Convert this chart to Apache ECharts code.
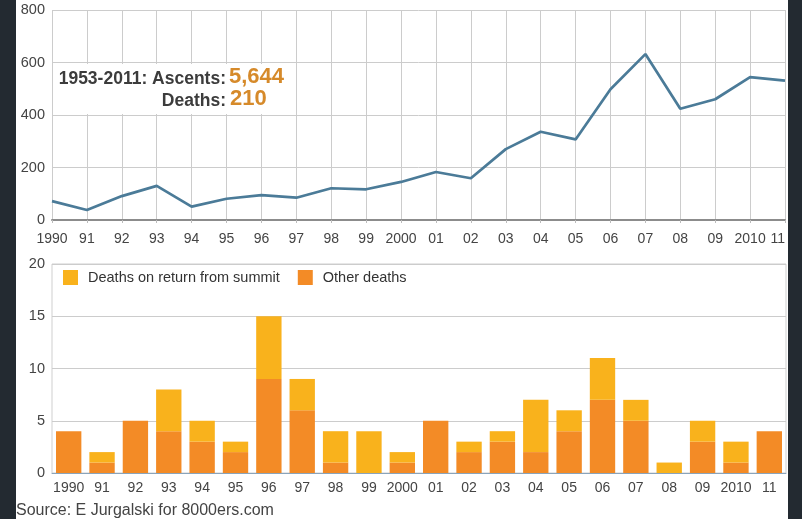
<!DOCTYPE html>
<html>
<head>
<meta charset="utf-8">
<script src="https://cdn.jsdelivr.net/npm/echarts@6/dist/echarts.min.js"></script>
<style>
html,body{margin:0;padding:0;background:#fff;}
#c{width:802px;height:519px;}
</style>
</head>
<body>
<div id="c"></div>
<script>
var years = ['1990','91','92','93','94','95','96','97','98','99','2000','01','02','03','04','05','06','07','08','09','2010','11'];
var ascents = [72,38,91,130,51,81,95,85,121,117,145,183,159,270,336,307,498,632,424,460,544,531];
var otherDeaths = [4,1,5,4,3,2,9,6,1,0,1,5,2,3,2,4,7,5,0,3,1,4];
var returnDeaths = [0,1,0,4,2,1,6,3,3,4,1,0,1,1,5,2,4,2,1,2,2,0];
var ascentTicks = [0,200,400,600,800];
var deathTicks = [0,5,10,15,20];

var FONT = '"Liberation Sans", Arial, sans-serif';
var chart = echarts.init(document.getElementById('c'), null, {renderer:'canvas'});
var option = {
  backgroundColor: '#ffffff',
  animation: false,
  textStyle: {fontFamily: FONT},
  grid: [
    {left: 52, right: 17, top: 10, height: 210, show: false},
    {left: 52, right: 16, top: 264, height: 209, show: true, borderColor: '#cfcfcf', borderWidth: 1, backgroundColor: 'transparent'}
  ],
  legend: {
    left: 63, top: 270, padding: 0,
    itemWidth: 15, itemHeight: 15, itemGap: 18,
    icon: 'rect',
    data: ['Deaths on return from summit', 'Other deaths'],
    textStyle: {fontFamily: FONT, fontSize: 14.5, color: '#333', padding: [0,0,0,5]}
  },
  xAxis: [
    {
      gridIndex: 0, type: 'category', data: years, boundaryGap: false,
      axisLine: {show: true, lineStyle: {color: '#8c8c8c', width: 2}},
      axisTick: {show: true, length: 3, interval: 0, lineStyle: {color: '#bbb'}},
      axisLabel: {interval: 0, margin: 12, fontSize: 14, color: '#444', fontFamily: FONT, alignMaxLabel: 'right'},
      splitLine: {show: true, interval: 0, lineStyle: {color: '#cccccc', width: 1}}
    },
    {
      gridIndex: 1, type: 'category', data: years, boundaryGap: true,
      axisLine: {show: true, lineStyle: {color: '#8aa4bb', width: 1}},
      axisTick: {show: false},
      axisLabel: {interval: 0, margin: 8, fontSize: 14, color: '#444', fontFamily: FONT},
      splitLine: {show: false}
    }
  ],
  yAxis: [
    {
      gridIndex: 0, type: 'value', min: 0, max: 800, interval: 200,
      axisLine: {show: false}, axisTick: {show: false},
      axisLabel: {margin: 7, fontSize: 14.5, color: '#444', fontFamily: FONT},
      splitLine: {show: true, lineStyle: {color: '#cccccc', width: 1}}
    },
    {
      gridIndex: 1, type: 'value', min: 0, max: 20, interval: 5,
      axisLine: {show: false}, axisTick: {show: false},
      axisLabel: {margin: 7, fontSize: 14.5, color: '#444', fontFamily: FONT},
      splitLine: {show: true, lineStyle: {color: '#cccccc', width: 1}}
    }
  ],
  series: [
    {
      name: 'Ascents', type: 'line', xAxisIndex: 0, yAxisIndex: 0,
      data: ascents, showSymbol: false, symbol: 'none',
      lineStyle: {color: '#4b7b98', width: 2.7}, z: 5
    },
    {
      name: 'Other deaths', type: 'bar', xAxisIndex: 1, yAxisIndex: 1, stack: 'd',
      data: otherDeaths, barCategoryGap: '24%',
      itemStyle: {color: '#f38b26'}
    },
    {
      name: 'Deaths on return from summit', type: 'bar', xAxisIndex: 1, yAxisIndex: 1, stack: 'd',
      data: returnDeaths, barCategoryGap: '24%',
      itemStyle: {color: '#f9b21c'}
    }
  ],
  graphic: [
    {type: 'rect', shape: {x: 53, y: 64, width: 238, height: 50}, style: {fill: '#fff'}, z: 10},
    {type: 'text', x: 226, y: 79, z: 11, style: {text: '1953-2011: Ascents:', font: 'bold 17.5px ' + FONT, fill: '#3c3c3c', textAlign: 'right', textVerticalAlign: 'middle'}},
    {type: 'text', x: 229, y: 77, z: 11, style: {text: '5,644', font: 'bold 22px ' + FONT, fill: '#d68a2a', textAlign: 'left', textVerticalAlign: 'middle'}},
    {type: 'text', x: 226, y: 101, z: 11, style: {text: 'Deaths:', font: 'bold 17.5px ' + FONT, fill: '#3c3c3c', textAlign: 'right', textVerticalAlign: 'middle'}},
    {type: 'text', x: 230, y: 99, z: 11, style: {text: '210', font: 'bold 22px ' + FONT, fill: '#d68a2a', textAlign: 'left', textVerticalAlign: 'middle'}},
    {type: 'text', x: 16, y: 511, z: 11, style: {text: 'Source: E Jurgalski for 8000ers.com', font: '16px ' + FONT, fill: '#444', textAlign: 'left', textVerticalAlign: 'middle'}},
    {type: 'rect', shape: {x: 0, y: 0, width: 16, height: 519}, style: {fill: '#232a31'}, z: 20},
    {type: 'rect', shape: {x: 788, y: 0, width: 14, height: 519}, style: {fill: '#232a31'}, z: 20}
  ]
};
chart.setOption(option);
</script>
</body>
</html>
